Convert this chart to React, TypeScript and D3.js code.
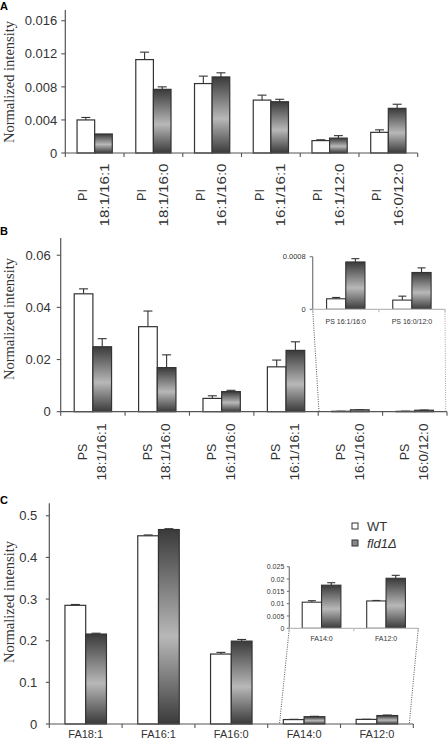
import React from "react";
import * as d3 from "d3";

// ---------- DATA ----------
const categoriesA = ["PI 18:1/16:1", "PI 18:1/16:0", "PI 16:1/16:0", "PI 16:1/16:1", "PI 16:1/12:0", "PI 16:0/12:0"];
const wtA = [0.004, 0.0113, 0.0084, 0.0064, 0.0015, 0.0025];
const wtErrA = [0.0003, 0.0009, 0.0009, 0.0006, 0.0001, 0.0003];
const mutA = [0.0023, 0.0077, 0.0092, 0.0062, 0.0018, 0.0054];
const mutErrA = [0, 0.0003, 0.0005, 0.0003, 0.0003, 0.0005];
const ticksA = [0, 0.004, 0.008, 0.012, 0.016];
const tickLabelsA = ["0", "0.004", "0.008", "0.012", "0.016"];

const categoriesB = ["PS 18:1/16:1", "PS 18:1/16:0", "PS 16:1/16:0", "PS 16:1/16:1", "PS 16:1/16:0", "PS 16:0/12:0"];
const wtB = [0.0452, 0.0326, 0.0051, 0.0172, 0.00016, 0.00014];
const wtErrB = [0.0019, 0.006, 0.001, 0.0026, 0.00002, 0.00006];
const mutB = [0.0249, 0.0169, 0.0077, 0.0235, 0.00072, 0.00056];
const mutErrB = [0.0031, 0.0049, 0.0005, 0.0033, 0.00005, 0.00007];
const ticksB = [0, 0.02, 0.04, 0.06];
const tickLabelsB = ["0", "0.02", "0.04", "0.06"];
const insetCategoriesB = ["PS 16:1/16:0", "PS 16:0/12:0"];
const insetTicksB = [0, 0.0008];
const insetTickLabelsB = ["0", "0.0008"];

const categoriesC = ["FA18:1", "FA16:1", "FA16:0", "FA14:0", "FA12:0"];
const wtC = [0.285, 0.452, 0.168, 0.0106, 0.0111];
const wtErrC = [0.002, 0.002, 0.004, 0.0006, 0.0002];
const mutC = [0.216, 0.467, 0.199, 0.0175, 0.0203];
const mutErrC = [0.002, 0.002, 0.004, 0.001, 0.0012];
const ticksC = [0, 0.1, 0.2, 0.3, 0.4, 0.5];
const tickLabelsC = ["0", "0.1", "0.2", "0.3", "0.4", "0.5"];
const insetCategoriesC = ["FA14:0", "FA12:0"];
const insetTicksC = [0, 0.005, 0.01, 0.015, 0.02, 0.025];
const insetTickLabelsC = ["0", "0.005", "0.01", "0.015", "0.02", "0.025"];

const seriesNames = ["WT", "fld1Δ"];
const yTitle = "Normalized intensity";

// ---------- STYLE ----------
const SANS = "'Liberation Sans', Arial, sans-serif";
const SERIF = "'Liberation Serif', 'Times New Roman', serif";
const AXIS = "#555";
const EDGE = "#333";
const TXT = "#333";

type Band = d3.ScaleBand<number>;
type Lin = d3.ScaleLinear<number, number>;

function Bars(props: {
  wt: number[]; wtE: number[]; mut: number[]; mutE: number[];
  idx: number[]; x: Band; y: Lin; frac: number; cap: number; sw?: number;
}) {
  const { wt, wtE, mut, mutE, idx, x, y, frac, cap } = props;
  const sw = props.sw ?? 1.2;
  const bw = x.bandwidth();
  const w = bw * frac;
  const y0 = y(0);
  return (
    <g>
      {idx.map((di, k) => {
        const c = (x(k) as number) + bw / 2;
        const items = [
          { x0: c - w, v: wt[di], e: wtE[di], fill: "#fff" },
          { x0: c, v: mut[di], e: mutE[di], fill: "url(#gbar)" },
        ];
        return (
          <g key={k}>
            {items.map((b, j) => {
              const top = y(b.v);
              const bc = b.x0 + w / 2;
              const et = y(b.v + b.e);
              return (
                <g key={j}>
                  {b.e > 0 && (
                    <g stroke={EDGE} strokeWidth={1.1}>
                      <line x1={bc} x2={bc} y1={top} y2={et} />
                      <line x1={bc - cap / 2} x2={bc + cap / 2} y1={et} y2={et} />
                    </g>
                  )}
                  <rect x={b.x0} y={top} width={w} height={Math.max(0, y0 - top)}
                    fill={b.fill} stroke={EDGE} strokeWidth={sw} />
                </g>
              );
            })}
          </g>
        );
      })}
    </g>
  );
}

function YAxis(props: { x: number; y: Lin; ticks: number[]; labels: string[]; size: number; gap: number; tick: number; color?: string }) {
  const { x, y, ticks, labels, size, gap, tick } = props;
  const [r0, r1] = y.range();
  const col = props.color ?? AXIS;
  return (
    <g>
      <line x1={x} x2={x} y1={r0} y2={r1} stroke={col} strokeWidth={1.2} />
      {ticks.map((t, i) => (
        <g key={i}>
          <line x1={x - tick} x2={x} y1={y(t)} y2={y(t)} stroke={col} strokeWidth={1.1} />
          <text x={x - gap} y={y(t)} dy="0.36em" textAnchor="end" fontFamily={SANS} fontSize={size} fill={TXT}>
            {labels[i]}
          </text>
        </g>
      ))}
    </g>
  );
}

function XAxis(props: { x: Band; y0: number; tick: number; color?: string; dashed?: boolean }) {
  const { x, y0, tick } = props;
  const [a, b] = x.range();
  const n = x.domain().length;
  const step = x.step();
  const col = props.color ?? AXIS;
  return (
    <g>
      <line x1={a} x2={b} y1={y0} y2={y0} stroke={col} strokeWidth={1.2} />
      {d3.range(n + 1).map((k) => (
        <line key={k} x1={a + k * step} x2={a + k * step} y1={y0} y2={y0 + tick} stroke={col} strokeWidth={1.1} />
      ))}
    </g>
  );
}

function RotLabels(props: { x: Band; cats: string[]; cy: number; off1: number; off2: number; size: number; len2: number }) {
  const { x, cats, cy, off1, off2, size, len2 } = props;
  const bw = x.bandwidth();
  return (
    <g fontFamily={SANS} fontSize={size} fill={TXT}>
      {cats.map((c, i) => {
        const sp = c.indexOf(" ");
        const l1 = c.slice(0, sp);
        const l2 = c.slice(sp + 1);
        const cx = (x(i) as number) + bw / 2;
        return (
          <g key={i} transform={`translate(${cx},${cy}) rotate(-90)`}>
            <text x={0} y={off1} textAnchor="middle">{l1}</text>
            <text x={0} y={off2} textAnchor="middle" textLength={len2} lengthAdjust="spacingAndGlyphs">{l2}</text>
          </g>
        );
      })}
    </g>
  );
}

function YTitle(props: { x: number; cy: number }) {
  return (
    <text transform={`translate(${props.x},${props.cy}) rotate(-90)`} textAnchor="middle"
      fontFamily={SERIF} fontSize={14.5} fill={TXT}>{yTitle}</text>
  );
}

export default function App() {
  // Panel A
  const xA = d3.scaleBand<number>().domain(d3.range(categoriesA.length)).range([65.3, 417.7]);
  const yA = d3.scaleLinear().domain([0, 0.0173]).range([153, 10]);
  // Panel B
  const xB = d3.scaleBand<number>().domain(d3.range(categoriesB.length)).range([60.7, 447]);
  const yB = d3.scaleLinear().domain([0, 0.0666]).range([411.7, 238]);
  const xBi = d3.scaleBand<number>().domain(d3.range(insetCategoriesB.length)).range([312.7, 445]);
  const yBi = d3.scaleLinear().domain([0, 0.0008]).range([309.3, 256.7]);
  // Panel C
  const xC = d3.scaleBand<number>().domain(d3.range(categoriesC.length)).range([49.3, 413.3]);
  const yC = d3.scaleLinear().domain([0, 0.53]).range([724, 503.3]);
  const xCi = d3.scaleBand<number>().domain(d3.range(insetCategoriesC.length)).range([289.3, 418.3]);
  const yCi = d3.scaleLinear().domain([0, 0.025]).range([628.3, 566.7]);

  const nA = categoriesA.length, nB = categoriesB.length, nC = categoriesC.length;

  return (
    <svg width={448} height={745} viewBox="0 0 448 745"
      style={{ position: "absolute", left: 0, top: 0, background: "#fff" }}>
      <defs>
        <linearGradient id="gbar" x1="0" y1="0" x2="0" y2="1">
          <stop offset="0" stopColor="#3a3a3a" />
          <stop offset="0.55" stopColor="#b8b8b8" />
          <stop offset="1" stopColor="#3a3a3a" />
        </linearGradient>
      </defs>
      <rect x={0} y={0} width={448} height={745} fill="#fff" />

      {/* ---------- Panel A ---------- */}
      <text x={0} y={10} fontFamily={SANS} fontWeight="bold" fontSize={11}>A</text>
      <YTitle x={14} cy={82} />
      <Bars wt={wtA} wtE={wtErrA} mut={mutA} mutE={mutErrA} idx={d3.range(nA)} x={xA} y={yA} frac={0.3} cap={9} />
      <YAxis x={65.3} y={yA} ticks={ticksA} labels={tickLabelsA} size={13} gap={8} tick={4} />
      <XAxis x={xA} y0={153} tick={4} />
      <RotLabels x={xA} cats={categoriesA} cy={195} off1={-7.3} off2={14.3} size={12.5} len2={63} />

      {/* ---------- Panel B ---------- */}
      <text x={0} y={234.5} fontFamily={SANS} fontWeight="bold" fontSize={11}>B</text>
      <YTitle x={14} cy={319} />
      <Bars wt={wtB} wtE={wtErrB} mut={mutB} mutE={mutErrB} idx={d3.range(nB)} x={xB} y={yB} frac={0.29} cap={9} />
      <YAxis x={60.7} y={yB} ticks={ticksB} labels={tickLabelsB} size={13} gap={10} tick={4} />
      <XAxis x={xB} y0={411.7} tick={4} />
      <RotLabels x={xB} cats={categoriesB} cy={452} off1={-5.6} off2={13.1} size={12.5} len2={57} />
      {/* inset B */}
      <line x1={312.7} y1={309.3} x2={319} y2={411.7} stroke="#444" strokeWidth={0.9} strokeDasharray="1,1.3" />
      <line x1={445} y1={309.3} x2={445.7} y2={411.7} stroke="#999" strokeWidth={0.9} strokeDasharray="1,1.3" />
      <Bars wt={wtB} wtE={wtErrB} mut={mutB} mutE={mutErrB} idx={[4, 5]} x={xBi} y={yBi} frac={0.29} cap={8} sw={1.1} />
      <YAxis x={312.7} y={yBi} ticks={insetTicksB} labels={insetTickLabelsB} size={7.5} gap={7} tick={3} color="#777" />
      <XAxis x={xBi} y0={309.3} tick={3} color="#bbb" />
      <g fontFamily={SANS} fontSize={7} fill={TXT}>
        {insetCategoriesB.map((c, i) => (
          <text key={i} x={(xBi(i) as number) + xBi.bandwidth() / 2} y={324} textAnchor="middle">{c}</text>
        ))}
      </g>

      {/* ---------- Panel C ---------- */}
      <text x={0} y={504.3} fontFamily={SANS} fontWeight="bold" fontSize={11}>C</text>
      <YTitle x={14} cy={602} />
      <Bars wt={wtC} wtE={wtErrC} mut={mutC} mutE={mutErrC} idx={d3.range(nC)} x={xC} y={yC} frac={0.285} cap={9} />
      <YAxis x={49.3} y={yC} ticks={ticksC} labels={tickLabelsC} size={13} gap={12} tick={3.5} />
      <XAxis x={xC} y0={724} tick={4} />
      <g fontFamily={SANS} fontSize={11} fill={TXT}>
        {categoriesC.map((c, i) => (
          <text key={i} x={(xC(i) as number) + xC.bandwidth() / 2} y={738} textAnchor="middle">{c}</text>
        ))}
      </g>
      {/* inset C */}
      <line x1={289.3} y1={628.3} x2={279.5} y2={724} stroke="#444" strokeWidth={0.9} strokeDasharray="1,1.3" />
      <line x1={418.3} y1={628.3} x2={409.3} y2={724} stroke="#444" strokeWidth={0.9} strokeDasharray="1,1.3" />
      <Bars wt={wtC} wtE={wtErrC} mut={mutC} mutE={mutErrC} idx={[3, 4]} x={xCi} y={yCi} frac={0.3} cap={8} sw={1.1} />
      <YAxis x={289.3} y={yCi} ticks={insetTicksC} labels={insetTickLabelsC} size={7} gap={5} tick={2.5} color="#777" />
      <XAxis x={xCi} y0={628.3} tick={3} color="#bbb" />
      <g fontFamily={SANS} fontSize={7} fill={TXT}>
        {insetCategoriesC.map((c, i) => (
          <text key={i} x={(xCi(i) as number) + xCi.bandwidth() / 2} y={641} textAnchor="middle">{c}</text>
        ))}
      </g>
      {/* legend */}
      <g>
        <rect x={352} y={523} width={6} height={6} fill="#fff" stroke={EDGE} strokeWidth={1} />
        <text x={367} y={531} fontFamily={SANS} fontSize={13} fill={TXT}>{seriesNames[0]}</text>
        <rect x={352} y={540} width={6} height={6} fill="#888" stroke={EDGE} strokeWidth={1} />
        <text x={367} y={548} fontFamily={SANS} fontSize={13} fontStyle="italic" fill={TXT}>{seriesNames[1]}</text>
      </g>
    </svg>
  );
}
